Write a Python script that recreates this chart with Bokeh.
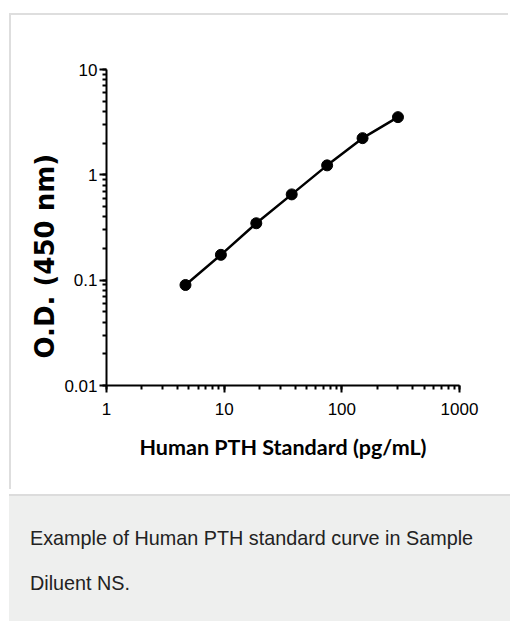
from bokeh.plotting import figure
from bokeh.models import Div, CustomJSTickFormatter, LogTicker, Title
from bokeh.layouts import column
from bokeh.embed import file_html
from bokeh.resources import INLINE

# Data
conc = [4.69, 9.38, 18.75, 37.5, 75, 150, 300]          # pg/mL
od = [0.090, 0.174, 0.347, 0.652, 1.23, 2.23, 3.53]     # O.D. at 450 nm
x_label = "Human PTH Standard (pg/mL)"
y_label = "O.D. (450 nm)"
caption_line1 = "Example of Human PTH standard curve in Sample"
caption_line2 = "Diluent NS."

p = figure(width=499, height=476,
           x_axis_type="log", y_axis_type="log",
           x_range=(1, 1000), y_range=(0.01, 10),
           output_backend="svg", toolbar_location=None,
           min_border_left=95, min_border_right=51,
           min_border_top=54, min_border_bottom=106,
           background_fill_color="white", border_fill_color="white")
p.styles = {"margin-left": "9px", "margin-top": "13px",
            "border-top": "2px solid #dedede",
            "border-left": "2px solid #dedede"}
p.outline_line_color = None
p.xgrid.visible = False
p.ygrid.visible = False

p.line(conc, od, line_color="black", line_width=2.5)
p.scatter(conc, od, size=11, fill_color="black", line_color="black")

fmt = CustomJSTickFormatter(code="return String(tick);")
for ax in (p.xaxis[0], p.yaxis[0]):
    ax.ticker = LogTicker(num_minor_ticks=10)
    ax.formatter = fmt
    ax.axis_line_width = 2
    ax.axis_line_color = "black"
    ax.major_tick_line_width = 2
    ax.minor_tick_line_width = 2
    ax.major_tick_line_color = "black"
    ax.minor_tick_line_color = "black"
    ax.major_tick_in = 0
    ax.major_tick_out = 7
    ax.minor_tick_in = 0
    ax.minor_tick_out = 4
    ax.major_label_text_font = "Liberation Sans"
    ax.major_label_text_font_size = "17px"
    ax.major_label_text_color = "black"

p.xaxis.axis_label = x_label
p.xaxis.axis_label_text_font = "Lato"
p.xaxis.axis_label_text_font_style = "bold"
p.xaxis.axis_label_text_color = "black"
p.xaxis.axis_label_text_font_size = "21.5px"
p.xaxis.major_label_standoff = 10
p.xaxis.axis_label_standoff = 16

p.yaxis.major_label_standoff = 2

ytitle = Title(text=y_label, align="left", offset=27, standoff=3,
               text_font="DejaVu Sans", text_font_size="26px",
               text_font_style="bold", text_color="black")
p.add_layout(ytitle, "left")

cap = Div(width=501, height=130,
          text=("<div style='box-sizing:border-box; width:501px; height:130px; "
                "border-top:2px solid #dcdcdc; background:#eeefee; "
                "padding:20px 0 0 21px; font-family:\"Liberation Sans\", Arial, sans-serif; "
                "font-size:19.8px; line-height:45px; color:#222222; white-space:nowrap;'>"
                + caption_line1 + "<br>" + caption_line2 + "</div>"),
          styles={"margin-left": "9px", "background-color": "#eeefee"})

layout = column(p, cap, spacing=0)
open("out.html", "w").write(file_html(layout, INLINE))
